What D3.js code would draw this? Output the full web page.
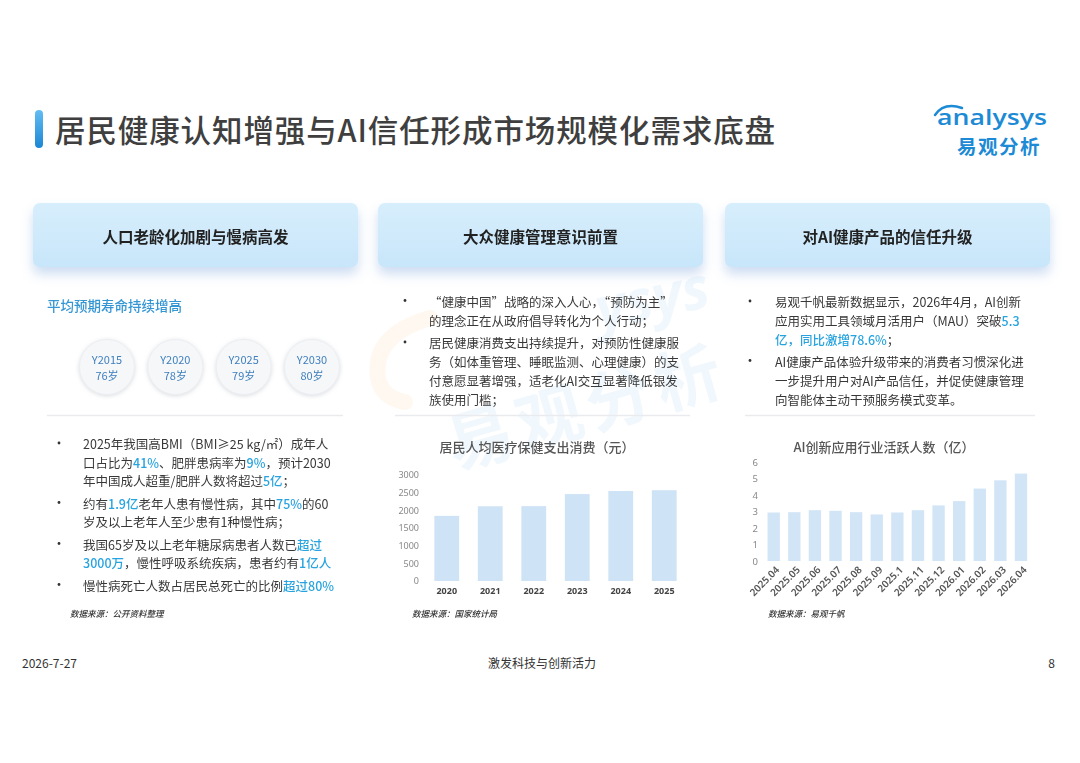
<!DOCTYPE html>
<html>
<head>
<meta charset="utf-8">
<script src="https://cdn.jsdelivr.net/npm/d3@7"></script>
<style>
  body { margin: 0; background: #fff; }
  svg { display: block; font-family: "Noto Sans CJK SC", "Noto Sans", sans-serif; }
</style>
</head>
<body>
<script>
// slide data
const lifeYears = ['Y2015', 'Y2020', 'Y2025', 'Y2030'];
const lifeAges = ['76岁', '78岁', '79岁', '80岁'];

const healthYears = ['2020', '2021', '2022', '2023', '2024', '2025'];
const healthSpend = [1843, 2115, 2120, 2460, 2547, 2570];
const healthTicks = [0, 500, 1000, 1500, 2000, 2500, 3000];

const aiMonths = ['2025.04', '2025.05', '2025.06', '2025.07', '2025.08', '2025.09', '2025.1',
  '2025.11', '2025.12', '2026.01', '2026.02', '2026.03', '2026.04'];
const aiUsers = [2.94, 2.96, 3.08, 3.04, 2.96, 2.82, 2.94, 3.08, 3.37, 3.63, 4.39, 4.89, 5.3];
const aiTicks = [0, 1, 2, 3, 4, 5, 6];

const headers = ['人口老龄化加剧与慢病高发', '大众健康管理意识前置', '对AI健康产品的信任升级'];

// bullets: list of lines, each line a list of [text, highlighted]
const leftBullets = [
  [[['2025年我国高BMI（BMI≥25 kg/㎡）成年人', 0]],
   [['口占比为', 0], ['41%', 1], ['、肥胖患病率为', 0], ['9%', 1], ['，预计2030', 0]],
   [['年中国成人超重/肥胖人数将超过', 0], ['5亿', 1], ['；', 0]]],
  [[['约有', 0], ['1.9亿', 1], ['老年人患有慢性病，其中', 0], ['75%', 1], ['的60', 0]],
   [['岁及以上老年人至少患有1种慢性病；', 0]]],
  [[['我国65岁及以上老年糖尿病患者人数已', 0], ['超过', 1]],
   [['3000万', 1], ['，慢性呼吸系统疾病，患者约有', 0], ['1亿人', 1]]],
  [[['慢性病死亡人数占居民总死亡的比例', 0], ['超过80%', 1]]]
];
const midBullets = [
  [[['“健康中国”战略的深入人心，“预防为主”', 0]],
   [['的理念正在从政府倡导转化为个人行动；', 0]]],
  [[['居民健康消费支出持续提升，对预防性健康服', 0]],
   [['务（如体重管理、睡眠监测、心理健康）的支', 0]],
   [['付意愿显著增强，适老化AI交互显著降低银发', 0]],
   [['族使用门槛；', 0]]]
];
const rightBullets = [
  [[['易观千帆最新数据显示，2026年4月，AI创新', 0]],
   [['应用实用工具领域月活用户（MAU）突破', 0], ['5.3', 1]],
   [['亿，同比激增78.6%', 1], ['；', 0]]],
  [[['AI健康产品体验升级带来的消费者习惯深化进', 0]],
   [['一步提升用户对AI产品信任，并促使健康管理', 0]],
   [['向智能体主动干预服务模式变革。', 0]]]
];

const W = 1080, H = 763;
const textCol = '#383838';
const hiCol = '#27a3df';
const blue = '#1d8ad5';

const svg = d3.select('body').append('svg').attr('width', W).attr('height', H);
const defs = svg.append('defs');

const boxShadow = defs.append('filter').attr('id', 'boxShadow')
  .attr('x', '-10%').attr('y', '-20%').attr('width', '120%').attr('height', '160%');
boxShadow.append('feDropShadow').attr('dx', 0).attr('dy', 7).attr('stdDeviation', 6)
  .attr('flood-color', '#8fb3e3').attr('flood-opacity', 0.45);

const circShadow = defs.append('filter').attr('id', 'circShadow')
  .attr('x', '-30%').attr('y', '-30%').attr('width', '160%').attr('height', '160%');
circShadow.append('feDropShadow').attr('dx', 0).attr('dy', 1).attr('stdDeviation', 2)
  .attr('flood-color', '#b9c0c8').attr('flood-opacity', 0.55);

const hdrGrad = defs.append('linearGradient').attr('id', 'hdrGrad')
  .attr('x1', 0).attr('y1', 0).attr('x2', 0).attr('y2', 1);
hdrGrad.append('stop').attr('offset', '0%').attr('stop-color', '#d7eefc');
hdrGrad.append('stop').attr('offset', '100%').attr('stop-color', '#c8e6fa');

const barGrad = defs.append('linearGradient').attr('id', 'barGrad')
  .attr('x1', 0).attr('y1', 0).attr('x2', 0).attr('y2', 1);
barGrad.append('stop').attr('offset', '0%').attr('stop-color', '#62bdf2');
barGrad.append('stop').attr('offset', '100%').attr('stop-color', '#1c86d4');

// faint watermark behind middle column
const wm = svg.append('g').style('opacity', 0.07);
wm.append('path')
  .attr('d', 'M 430 318 Q 372 335 378 378 Q 382 398 405 402')
  .style('fill', 'none').style('stroke', '#f39a1e').style('stroke-width', 16)
  .style('stroke-linecap', 'round');
wm.append('text')
  .attr('transform', 'translate(600,330) rotate(-12)')
  .text('ysys')
  .style('font-family', '"Open Sans", sans-serif').style('font-weight', 700)
  .style('font-style', 'italic').style('font-size', 58).style('fill', '#2a8fd8');
wm.append('text')
  .attr('transform', 'translate(455,470) rotate(-16)')
  .text('易观分析')
  .style('font-weight', 700).style('font-size', 66).style('fill', '#2a8fd8')
  .style('letter-spacing', 6);

// title
svg.append('rect')
  .attr('x', 35).attr('y', 110).attr('width', 8).attr('height', 38).attr('rx', 4)
  .style('fill', 'url(#barGrad)');
svg.append('text')
  .attr('x', 55).attr('y', 129)
  .attr('dominant-baseline', 'central')
  .text('居民健康认知增强与AI信任形成市场规模化需求底盘')
  .style('font-size', 30.5).style('font-weight', 500).style('letter-spacing', 0.9)
  .style('fill', '#3f3f3f');

// logo: swoosh + wordmark
const logo = svg.append('g');
logo.append('path')
  .attr('d', 'M 935 115 Q 944 102 962 108')
  .style('fill', 'none').style('stroke', blue).style('stroke-width', 2.5)
  .style('stroke-linecap', 'round');
logo.append('text')
  .attr('x', 937).attr('y', 125)
  .attr('textLength', 110).attr('lengthAdjust', 'spacingAndGlyphs')
  .text('analysys')
  .style('font-family', '"Open Sans", sans-serif').style('font-size', 21)
  .style('font-weight', 600).style('fill', blue);
logo.append('text')
  .attr('x', 957).attr('y', 153.5)
  .text('易观分析')
  .style('font-size', 19.5).style('font-weight', 700).style('fill', blue)
  .style('letter-spacing', 1.5);

// column headers
const colX = [33, 378, 725];
const colW = 325;
const hdr = svg.append('g');
hdr.selectAll('rect')
  .data(headers)
  .enter()
  .append('rect')
  .attr('x', (_, i) => colX[i]).attr('y', 203)
  .attr('width', colW).attr('height', 64).attr('rx', 7)
  .style('fill', 'url(#hdrGrad)')
  .attr('filter', 'url(#boxShadow)');
hdr.selectAll('text')
  .data(headers)
  .enter()
  .append('text')
  .attr('x', (_, i) => colX[i] + colW / 2).attr('y', 236)
  .attr('text-anchor', 'middle').attr('dominant-baseline', 'central')
  .text((d) => d)
  .style('font-size', 15.5).style('font-weight', 700).style('fill', '#222');

// separators
const seps = [[47, 343], [395, 690], [745, 1035]];
svg.append('g')
  .selectAll('line')
  .data(seps)
  .enter()
  .append('line')
  .attr('x1', (d) => d[0]).attr('x2', (d) => d[1])
  .attr('y1', 415.5).attr('y2', 415.5)
  .style('stroke', '#e9ebee').style('stroke-width', 1.5);

// left: life expectancy circles
svg.append('text')
  .attr('x', 47).attr('y', 305)
  .attr('dominant-baseline', 'central')
  .text('平均预期寿命持续增高')
  .style('font-size', 13.5).style('font-weight', 500).style('fill', '#3596d4');

const xLife = d3.scalePoint().domain(lifeYears).range([107, 312]);
const life = svg.append('g');
life.selectAll('circle')
  .data(lifeYears)
  .enter()
  .append('circle')
  .attr('cx', (d) => xLife(d)).attr('cy', 367).attr('r', 27.5)
  .style('fill', '#f5f7f9').style('stroke', '#eceef1').style('stroke-width', 1)
  .attr('filter', 'url(#circShadow)');
life.selectAll('text.yr')
  .data(lifeYears)
  .enter()
  .append('text')
  .attr('class', 'yr')
  .attr('x', (d) => xLife(d)).attr('y', 359)
  .attr('text-anchor', 'middle').attr('dominant-baseline', 'central')
  .text((d) => d)
  .style('font-size', 11).style('fill', '#3f7fbd');
life.selectAll('text.age')
  .data(lifeAges)
  .enter()
  .append('text')
  .attr('class', 'age')
  .attr('x', (_, i) => xLife(lifeYears[i])).attr('y', 375)
  .attr('text-anchor', 'middle').attr('dominant-baseline', 'central')
  .text((d) => d)
  .style('font-size', 11).style('fill', '#3f7fbd');

// bullet list helper
function drawBullets(bullets, bx, tx, y0, lineH, gap) {
  const g = svg.append('g');
  let y = y0;
  bullets.forEach((lines) => {
    g.append('circle').attr('cx', bx).attr('cy', y).attr('r', 1.4).style('fill', '#333');
    lines.forEach((segs) => {
      const t = g.append('text')
        .attr('x', tx).attr('y', y)
        .attr('dominant-baseline', 'central')
        .style('font-size', 12.5).style('fill', textCol);
      segs.forEach((s) => {
        t.append('tspan')
          .text(s[0])
          .style('fill', s[1] ? hiCol : textCol)
          .style('font-weight', s[1] ? 500 : 400);
      });
      y += lineH;
    });
    y += gap;
  });
}
drawBullets(leftBullets, 59, 83, 443, 18.5, 4);
drawBullets(midBullets, 405, 429, 300.5, 19, 3.5);
drawBullets(rightBullets, 750, 775, 301, 19, 2.5);

// source notes
const sources = [[70, '数据来源：公开资料整理'], [412, '数据来源：国家统计局'], [768, '数据来源：易观千帆']];
svg.append('g')
  .selectAll('text')
  .data(sources)
  .enter()
  .append('text')
  .attr('x', (d) => d[0]).attr('y', 613)
  .attr('dominant-baseline', 'central')
  .text((d) => d[1])
  .style('font-size', 8.5).style('font-style', 'italic').style('font-weight', 500)
  .style('fill', '#333');

// middle chart: health spending per capita
svg.append('text')
  .attr('x', 537).attr('y', 446)
  .attr('text-anchor', 'middle').attr('dominant-baseline', 'central')
  .text('居民人均医疗保健支出消费（元）')
  .style('font-size', 13).style('font-weight', 500).style('fill', '#555');

const xH = d3.scaleBand().domain(healthYears).range([425, 686])
  .paddingInner(0.43).paddingOuter(0.215);
const yH = d3.scaleLinear().domain([0, 3000]).range([581, 475]);

svg.append('g')
  .selectAll('rect')
  .data(healthSpend)
  .enter()
  .append('rect')
  .attr('x', (_, i) => xH(healthYears[i]))
  .attr('y', (d) => yH(d))
  .attr('width', xH.bandwidth())
  .attr('height', (d) => yH(0) - yH(d))
  .style('fill', '#cfe3f6');

const yAxisH = svg.append('g')
  .attr('transform', 'translate(419,0)')
  .call(d3.axisLeft(yH).tickValues(healthTicks).tickFormat(d3.format('d')).tickSize(0).tickPadding(0));
yAxisH.select('.domain').remove();
yAxisH.selectAll('text').style('font-size', 9).style('fill', '#888')
  .style('font-family', '"Noto Sans", sans-serif');

const xAxisH = svg.append('g')
  .attr('transform', 'translate(0,587)')
  .call(d3.axisBottom(xH).tickSize(0).tickPadding(1));
xAxisH.select('.domain').remove();
xAxisH.selectAll('text').style('font-size', 9).style('font-weight', 700).style('fill', '#444')
  .style('font-family', '"Noto Sans", sans-serif');

// right chart: AI app active users
svg.append('text')
  .attr('x', 884).attr('y', 446)
  .attr('text-anchor', 'middle').attr('dominant-baseline', 'central')
  .text('AI创新应用行业活跃人数（亿）')
  .style('font-size', 13).style('font-weight', 500).style('fill', '#555');

const xA = d3.scaleBand().domain(aiMonths).range([763.4, 1031.3])
  .paddingInner(0.4).paddingOuter(0.2);
const yA = d3.scaleLinear().domain([0, 6]).range([561, 462]);

svg.append('g')
  .selectAll('rect')
  .data(aiUsers)
  .enter()
  .append('rect')
  .attr('x', (_, i) => xA(aiMonths[i]))
  .attr('y', (d) => yA(d))
  .attr('width', xA.bandwidth())
  .attr('height', (d) => yA(0) - yA(d))
  .style('fill', '#d2e5f7');

const yAxisA = svg.append('g')
  .attr('transform', 'translate(758,0)')
  .call(d3.axisLeft(yA).tickValues(aiTicks).tickFormat(d3.format('d')).tickSize(0).tickPadding(0));
yAxisA.select('.domain').remove();
yAxisA.selectAll('text').style('font-size', 9.5).style('fill', '#888')
  .style('font-family', '"Noto Sans", sans-serif');

const xAxisA = svg.append('g')
  .attr('transform', 'translate(4,568)')
  .call(d3.axisBottom(xA).tickSize(0).tickPadding(0));
xAxisA.select('.domain').remove();
xAxisA.selectAll('text')
  .attr('y', 0).attr('dy', '0.35em')
  .attr('text-anchor', 'end')
  .attr('transform', 'rotate(-45)')
  .style('font-size', 10).style('font-weight', 600).style('fill', '#555')
  .style('font-family', '"Noto Sans", sans-serif');

// footer
const foot = svg.append('g').style('font-size', 12).style('fill', '#333');
foot.append('text').attr('x', 22).attr('y', 662).attr('dominant-baseline', 'central')
  .text('2026-7-27');
foot.append('text').attr('x', 542).attr('y', 662).attr('dominant-baseline', 'central')
  .attr('text-anchor', 'middle').text('激发科技与创新活力');
foot.append('text').attr('x', 1055).attr('y', 662).attr('dominant-baseline', 'central')
  .attr('text-anchor', 'end').text('8');
</script>
</body>
</html>
